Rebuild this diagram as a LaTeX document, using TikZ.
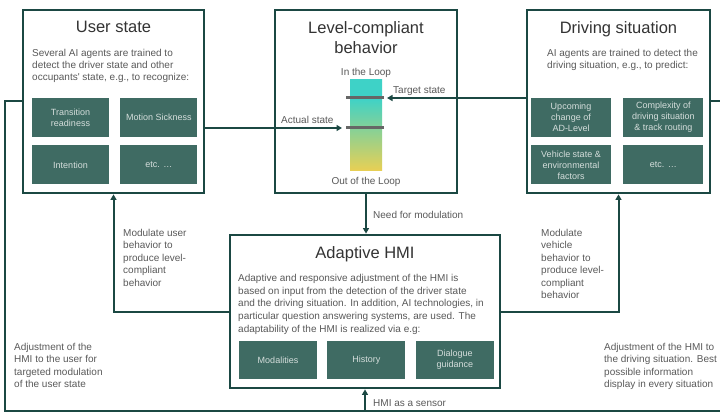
\documentclass[tikz,border=0pt]{standalone}
\usepackage{fontspec}
\setmainfont{Liberation Sans}
\usepackage{tikz}
\usetikzlibrary{positioning,arrows.meta}
\definecolor{hmiDark}{HTML}{1B4843}
\definecolor{agentFill}{HTML}{3F6B63}
\definecolor{agentText}{HTML}{D5DEDC}
\definecolor{titleGray}{HTML}{333333}
\definecolor{textGray}{HTML}{595959}
\definecolor{barTeal}{HTML}{3ED2C7}
\definecolor{barYellow}{HTML}{FFCF45}
\definecolor{markGray}{HTML}{666666}
\def\AgentW{77pt}
\def\AgentH{39pt}
\pgfdeclareverticalshading{loopshade}{100bp}{color(0bp)=(barYellow); color(20bp)=(barYellow); color(65bp)=(barTeal); color(100bp)=(barTeal)}

\begin{document}
\begin{tikzpicture}[x=1pt,y=-1pt,
	panel/.style={draw=hmiDark,line width=2.8pt,fill=white,minimum width=181pt,minimum height=183pt,inner sep=0pt},
	heading/.style={text=titleGray,font=\fontsize{16.5}{20}\selectfont,align=center,anchor=north,inner sep=0pt},
	blurb/.style={text=textGray,font=\fontsize{10}{12}\selectfont,align=left,anchor=north west,inner sep=0pt},
	agent/.style={fill=agentFill,text=agentText,font=\fontsize{9}{11}\selectfont,align=center,minimum width=\AgentW,minimum height=\AgentH,inner sep=0pt},
	link/.style={draw=hmiDark,line width=2pt},
	arr/.style={link,-{Triangle[length=5.5pt,width=6pt]}},
	loopmark/.style={draw=markGray,line width=3pt},
	note/.style={text=textGray,font=\fontsize{10}{12.5}\selectfont,align=left,inner sep=0pt}
	]
	\useasboundingbox (0,0) rectangle (720,414);
	% main panels
	\node[panel] (user) at (113.5,101.5) {};
	\node[panel,minimum width=182pt] (level) at (366,101.5) {};
	\node[panel,minimum width=183pt] (drive) at (618.5,101.5) {};
	\node[panel,minimum width=270pt,minimum height=153pt] (hmi) at (365,311.5) {};
	\node[heading] (userT) at (113.5,21) {User state};
	\node[heading] (levelT) at (366,21) {Level-compliant\\behavior};
	\node[heading] (driveT) at (618.5,21) {Driving situation};
	\node[heading] (hmiT) at (365,246) {Adaptive HMI};
	% user state
	\node[blurb] (userD) at (32,49) {Several AI agents are trained to\\detect the driver state and other\\occupants\textquotesingle{} state, e.g., to recognize:};
	\node[agent] (trans) at (70.5,117.5) {Transition\\readiness};
	\node[agent,right=11pt of trans] (sick) {Motion Sickness};
	\node[agent,below=8pt of trans] (intent) {Intention};
	\node[agent,right=11pt of intent] (etcU) {etc. …};
	% driving situation
	\node[blurb] (driveD) at (547,49) {AI agents are trained to detect the\\driving situation, e.g., to predict:};
	\node[agent,minimum width=80pt] (adlevel) at (571,117.5) {Upcoming\\change of\\AD-Level};
	\node[agent,minimum width=80pt,right=12pt of adlevel] (complex) {Complexity of\\driving situation\\\& track routing};
	\node[agent,minimum width=80pt,below=8pt of adlevel] (vehicle) {Vehicle state \&\\environmental\\factors};
	\node[agent,minimum width=80pt,right=12pt of vehicle] (etcD) {etc. …};
	% adaptive HMI
	\node[blurb,font=\fontsize{10}{12.75}\selectfont] (hmiD) at (238,274) {Adaptive and responsive adjustment of the HMI is\\based on input from the detection of the driver state\\and the driving situation. In addition, AI technologies, in\\particular question answering systems, are used. The\\adaptability of the HMI is realized via e.g:};
	\node[agent,minimum width=78pt,minimum height=38pt] (modal) at (278,360) {Modalities};
	\node[agent,minimum width=78pt,minimum height=38pt,right=10pt of modal] (hist) {History};
	\node[agent,minimum width=78pt,minimum height=38pt,right=10pt of hist] (dialog) {Dialogue\\guidance};
	% loop bar
	\node[shade,shading=loopshade,minimum width=32pt,minimum height=91pt,inner sep=0pt] (bar) at (366,125.5) {};
	\node[note,above=2.4pt of bar] (inloop) {In the Loop};
	\node[note,below=5.5pt of bar] (outloop) {Out of the Loop};
	\coordinate (tgtL) at (346,98);
	\coordinate (tgtR) at (384,98);
	\coordinate (actL) at (346,128);
	\coordinate (actR) at (384,128);
	\draw[loopmark] (tgtL) -- (tgtR);
	\draw[loopmark] (actL) -- (actR);
	\draw[arr] (drive.west |- tgtR) -- ([xshift=3pt]tgtR);
	\draw[arr] (user.east |- actL) -- ([xshift=-4pt]actL);
	\node[note,anchor=base west] (tgtN) at (393,93.5) {Target state};
	\node[note,anchor=base west] (actN) at (281,123.5) {Actual state};
	% connectors
	\draw[arr] (level.south) -- (level.south |- hmi.north);
	\node[note,anchor=base west] (needN) at (373,218.5) {Need for modulation};
	\draw[arr] (hmi.west) -| (user.south);
	\draw[arr] (hmi.east) -| (drive.south);
	\coordinate (loopSW) at (5,411);
	\coordinate (loopSE) at (724,411);
	\draw[link] (user.west) -| (loopSW) -- (loopSE) |- (drive.east);
	\draw[arr] (hmi.south |- loopSW) -- (hmi.south);
	\node[note,anchor=base west] (sensN) at (373,406.5) {HMI as a sensor};
	\node[note,anchor=north west] (modU) at (123,229) {Modulate user\\behavior to\\produce level-\\compliant\\behavior};
	\node[note,anchor=north west] (modV) at (541,229) {Modulate\\vehicle\\behavior to\\produce level-\\compliant\\behavior};
	\node[note,anchor=north west,font=\fontsize{10}{12.3}\selectfont] (adjU) at (14,343) {Adjustment of the\\HMI to the user for\\targeted modulation\\of the user state};
	\node[note,anchor=north west,font=\fontsize{10}{12.3}\selectfont] (adjV) at (604,343) {Adjustment of the HMI to\\the driving situation. Best\\possible information\\display in every situation};
\end{tikzpicture}
\end{document}
